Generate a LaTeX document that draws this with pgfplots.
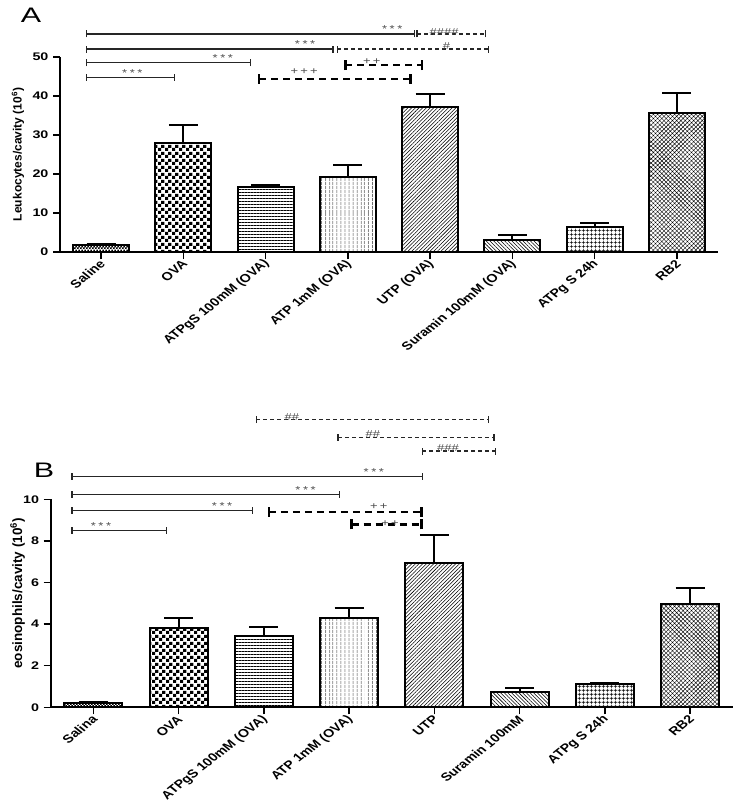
\documentclass[border=0pt]{standalone}
\usepackage{pgfplots}
\pgfplotsset{compat=1.18}
\usepackage{fontspec}
\setmainfont{Liberation Sans}
\setsansfont{Liberation Sans}
\usetikzlibrary{patterns, patterns.meta}

% small and large checkerboards
\pgfdeclarepatternformonly{checkfine}{\pgfqpoint{0pt}{0pt}}{\pgfqpoint{3.4pt}{3.4pt}}{\pgfqpoint{3.4pt}{3.4pt}}{%
  \pgfpathrectangle{\pgfqpoint{0pt}{0pt}}{\pgfqpoint{1.9pt}{1.9pt}}%
  \pgfpathrectangle{\pgfqpoint{1.7pt}{1.7pt}}{\pgfqpoint{1.9pt}{1.9pt}}%
  \pgfusepath{fill}}
\pgfdeclarepatternformonly{checkbig}{\pgfqpoint{0pt}{0pt}}{\pgfqpoint{6.6pt}{6.6pt}}{\pgfqpoint{6.6pt}{6.6pt}}{%
  \pgfpathrectangle{\pgfqpoint{0pt}{0pt}}{\pgfqpoint{3.3pt}{3.3pt}}%
  \pgfpathrectangle{\pgfqpoint{3.3pt}{3.3pt}}{\pgfqpoint{3.3pt}{3.3pt}}%
  \pgfusepath{fill}}

% significance brackets: style, x1, x2, y, half tick height
\newcommand{\brk}[5]{%
  \draw[#1] (axis cs:#2,#4) -- (axis cs:#3,#4);
  \draw[#1,solid] ([yshift=-#5]axis cs:#2,#4) -- ([yshift=#5]axis cs:#2,#4);
  \draw[#1,solid] ([yshift=-#5]axis cs:#3,#4) -- ([yshift=#5]axis cs:#3,#4);
}
\newcommand{\lbl}[4][0pt]{%
  \node[font=\fontsize{10}{11}\selectfont, text=black!70, anchor=south, inner sep=1pt, yshift=#1, xscale=1.3]
    at (axis cs:#2,#3) {#4};
}
\newcommand{\stars}{*\hspace{2pt}*\hspace{2pt}*}

\tikzset{
  sol/.style={line width=1.2pt, black!85},
  hsh/.style={line width=1.2pt, black!85, dash pattern=on 4pt off 3pt},
  pls/.style={line width=2.5pt, black, dash pattern=on 7pt off 5pt},
}
\pgfplotsset{
  prism/.style={
    scale only axis, clip=false,
    axis x line=bottom, axis y line=left,
    axis line style={-, line width=1.8pt},
    xmin=-0.5, xmax=7.5, xtick={0,...,7},
    tick align=outside, major tick length=7pt,
    every tick/.style={black, line width=1.5pt},
    tick label style={font=\bfseries\fontsize{11.5}{13}\selectfont},
    yticklabel style={xscale=1.3, font=\bfseries\fontsize{11}{13}\selectfont},
    /pgf/number format/assume math mode=true,
    xticklabel style={xscale=1.25, rotate=45, anchor=east, yshift=-3pt, xshift=2pt},
    ylabel style={font=\bfseries\fontsize{12}{14}\selectfont, anchor=center},
  },
  pbar/.style={ybar, bar width=0.68, draw=black, line width=2pt, pattern color=black,
    error bars/y dir=plus, error bars/y explicit,
    error bars/error bar style={line width=2pt, solid},
    error bars/error mark options={rotate=90, mark size=14.5pt, line width=2pt}},
}

\begin{document}
\begin{tikzpicture}
\useasboundingbox (0pt,0pt) rectangle (735pt,-810pt);

\node[font=\fontsize{21}{24}\selectfont, xscale=1.45] at (31pt,-15pt) {A};
\node[font=\fontsize{21}{24}\selectfont, xscale=1.45] at (44pt,-470pt) {B};

% ---------------- panel A ----------------
\begin{axis}[prism,
  at={(60pt,-252pt)}, anchor=south west,
  width=658pt, height=195pt,
  ymin=0, ymax=50, ytick={0,10,...,50},
  xticklabels={Saline, OVA, ATPgS 100mM (OVA), ATP 1mM (OVA), UTP (OVA), Suramin 100mM (OVA), ATPg S 24h, RB2},
  ylabel={Leukocytes/cavity (10\textsuperscript{6})},
  ylabel style={at={([xshift=-42pt]axis description cs:0,0.5)}},
]
\addplot[pbar, pattern=checkfine] coordinates {(0,1.8) +- (0,0.25)};
\addplot[pbar, pattern=checkbig] coordinates {(1,28.0) +- (0,4.5)};
\addplot[pbar, pattern={Lines[angle=0, distance=3pt, line width=0.75pt]}] coordinates {(2,16.6) +- (0,0.7)};
\addplot[pbar, pattern={Lines[angle=90, distance=4pt, line width=0.9pt]}] coordinates {(3,19.3) +- (0,2.9)};
\addplot[pbar, pattern={Lines[angle=45, distance=2.6pt, line width=0.55pt]}] coordinates {(4,37.1) +- (0,3.4)};
\addplot[pbar, pattern={Lines[angle=-45, distance=2.6pt, line width=0.55pt]}] coordinates {(5,3.1) +- (0,1.2)};
\addplot[pbar, pattern={Hatch[angle=0, distance=4pt, line width=0.8pt]}] coordinates {(6,6.5) +- (0,1.0)};
\addplot[pbar, pattern={Hatch[angle=45, distance=3pt, line width=0.4pt]}] coordinates {(7,35.6) +- (0,5.2)};

\brk{sol}{-0.18}{3.81}{55.9}{3.5pt}
\lbl{3.54}{55.9}{\stars}
\brk{sol}{-0.18}{2.82}{52.05}{3.5pt}
\lbl{2.48}{52.05}{\stars}
\brk{sol}{-0.18}{1.82}{48.5}{3.5pt}
\lbl{1.48}{48.5}{\stars}
\brk{sol}{-0.18}{0.895}{44.8}{3.5pt}
\lbl{0.38}{44.8}{\stars}
\brk{hsh}{3.84}{4.67}{55.9}{3.5pt}
\lbl[-3pt]{4.17}{55.9}{\#\#\#\#}
\brk{hsh}{2.87}{4.71}{52.05}{3.5pt}
\lbl[-2pt]{4.20}{52.05}{\#}
\brk{pls}{2.97}{3.90}{47.9}{5pt}
\lbl[-1pt]{3.29}{47.9}{+\,+}
\brk{pls}{1.92}{3.76}{44.4}{5pt}
\lbl[3pt]{2.47}{44.4}{+\,+\,+}
\end{axis}

% ---------------- panel B ----------------
\begin{axis}[prism,
  at={(50.7pt,-707.3pt)}, anchor=south west,
  width=682pt, height=208pt,
  ymin=0, ymax=10, ytick={0,2,...,10},
  xticklabels={Salina, OVA, ATPgS 100mM (OVA), ATP 1mM (OVA), UTP, Suramin 100mM, ATPg S 24h, RB2},
  ylabel={eosinophils/cavity (10\textsuperscript{6})},
  ylabel style={font=\bfseries\fontsize{13.5}{15}\selectfont, at={([xshift=-33pt, yshift=10pt]axis description cs:0,0.5)}},
]
\addplot[pbar, pattern=checkfine] coordinates {(0,0.22) +- (0,0.04)};
\addplot[pbar, pattern=checkbig] coordinates {(1,3.82) +- (0,0.45)};
\addplot[pbar, pattern={Lines[angle=0, distance=3pt, line width=0.75pt]}] coordinates {(2,3.42) +- (0,0.42)};
\addplot[pbar, pattern={Lines[angle=90, distance=4pt, line width=0.9pt]}] coordinates {(3,4.27) +- (0,0.50)};
\addplot[pbar, pattern={Lines[angle=45, distance=2.6pt, line width=0.55pt]}] coordinates {(4,6.96) +- (0,1.31)};
\addplot[pbar, pattern={Lines[angle=-45, distance=2.6pt, line width=0.55pt]}] coordinates {(5,0.75) +- (0,0.19)};
\addplot[pbar, pattern={Hatch[angle=0, distance=4pt, line width=0.8pt]}] coordinates {(6,1.10) +- (0,0.08)};
\addplot[pbar, pattern={Hatch[angle=45, distance=3pt, line width=0.4pt]}] coordinates {(7,4.99) +- (0,0.77)};

\brk{hsh}{1.91}{4.64}{13.83}{3.5pt}
\lbl[-2pt]{2.33}{13.83}{\#\#}
\brk{hsh}{2.87}{4.70}{12.99}{3.5pt}
\lbl[-2pt]{3.28}{12.99}{\#\#}
\brk{hsh}{3.86}{4.72}{12.32}{3.5pt}
\lbl[-2pt]{4.16}{12.32}{\#\#\#}
\brk{sol}{-0.25}{3.86}{11.10}{3.5pt}
\lbl{3.29}{11.10}{\stars}
\brk{sol}{-0.25}{2.89}{10.24}{3.5pt}
\lbl{2.49}{10.24}{\stars}
\brk{sol}{-0.25}{1.87}{9.47}{3.5pt}
\lbl{1.51}{9.47}{\stars}
\brk{sol}{-0.25}{0.86}{8.51}{3.5pt}
\lbl{0.09}{8.51}{\stars}
\brk{pls}{2.06}{3.85}{9.39}{5pt}
\lbl[1pt]{3.35}{9.39}{+\,+}
\brk{pls}{3.03}{3.85}{8.80}{5pt}
\lbl[-3pt]{3.48}{8.80}{+\,+}
\end{axis}
\end{tikzpicture}
\end{document}
